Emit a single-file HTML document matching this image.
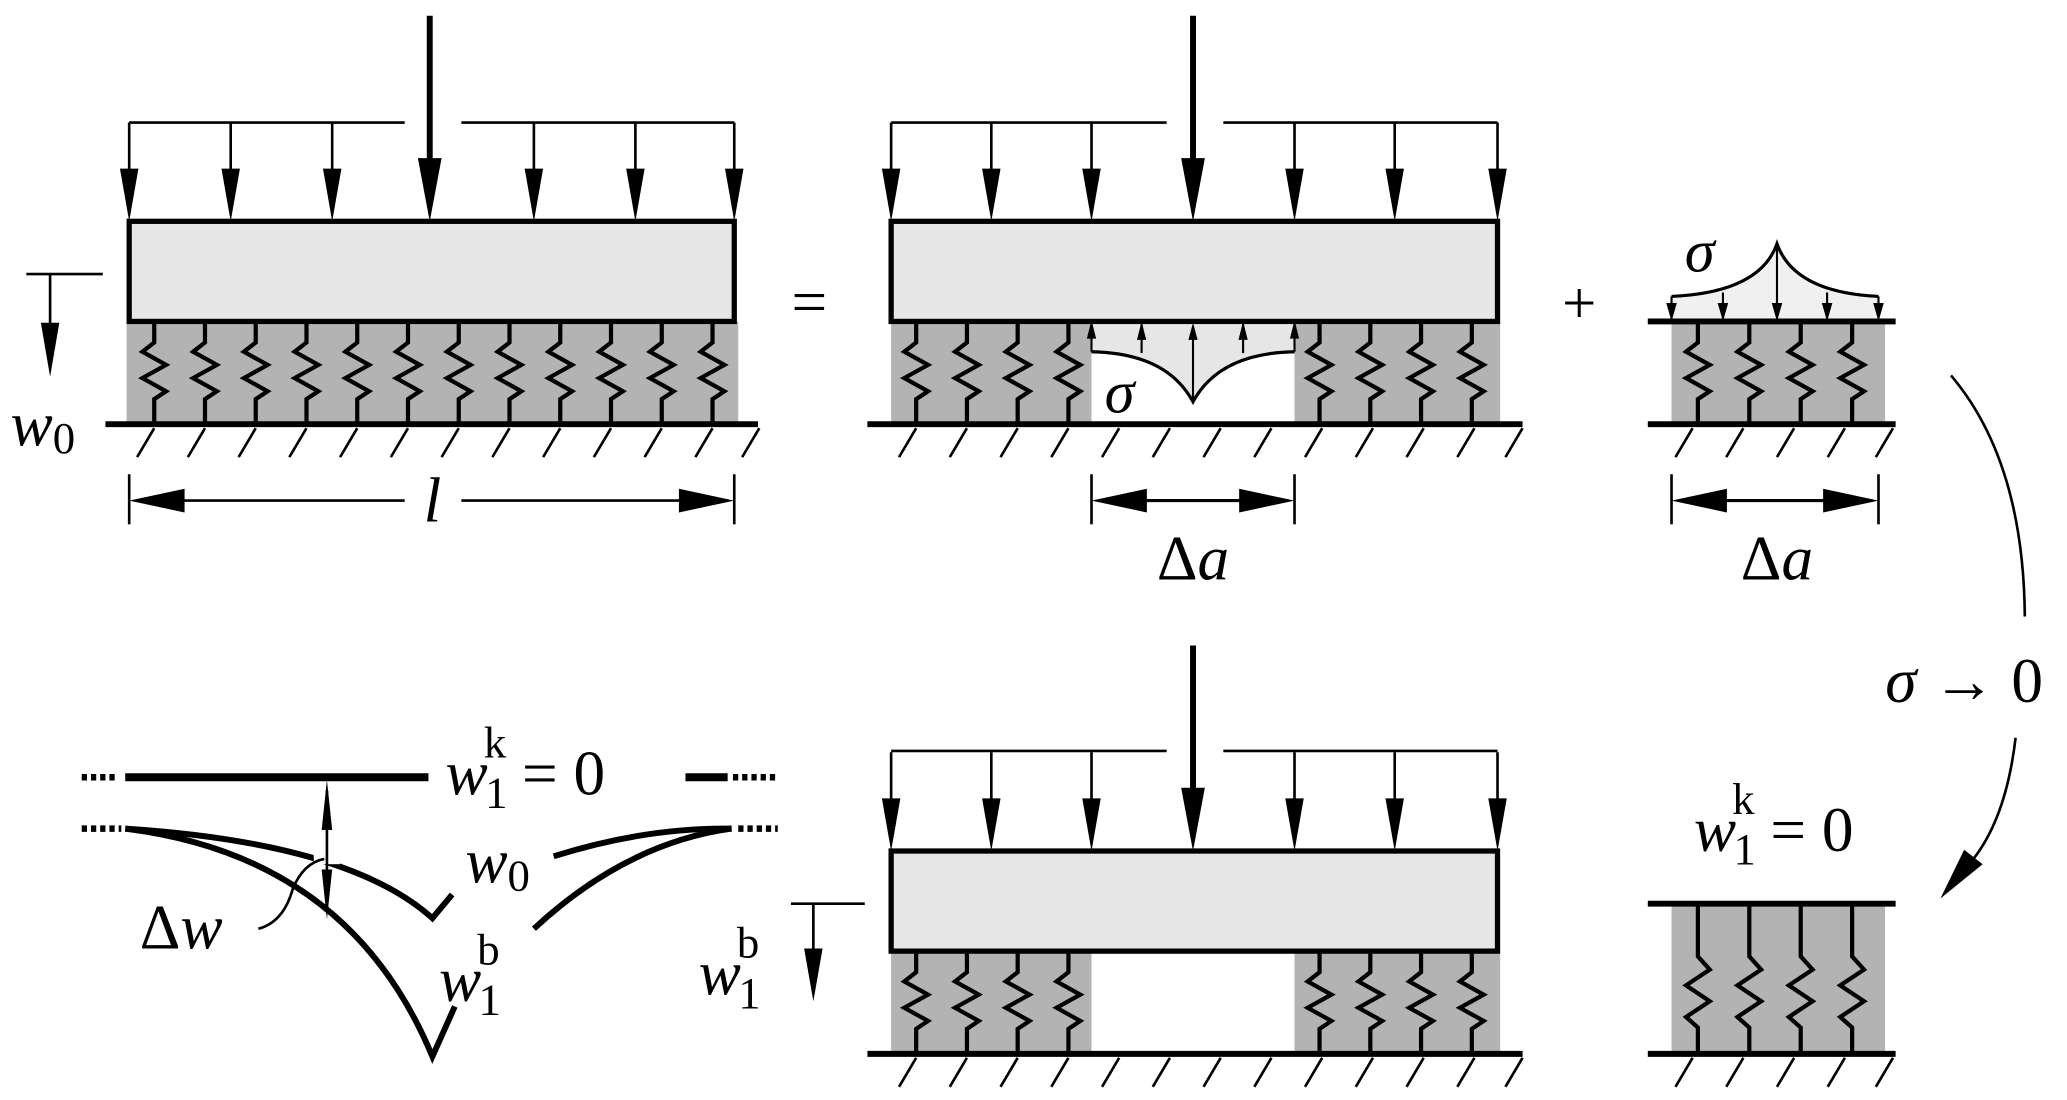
<!DOCTYPE html>
<html><head><meta charset="utf-8"><style>
html,body{margin:0;padding:0;background:#fff;}
svg{display:block;}
text{font-family:"Liberation Serif",serif;font-style:italic;fill:#000;}
.up{font-style:normal;}
</style></head><body>
<svg width="2067" height="1100" viewBox="0 0 1568 835" preserveAspectRatio="none" xmlns="http://www.w3.org/2000/svg">
<defs>
<g id="la"><line x1="0" y1="-75" x2="0" y2="-38" stroke="#000" stroke-width="2"/><polygon points="-7,-40 7,-40 0,0" fill="#000"/></g>
<g id="ba"><line x1="0" y1="-156" x2="0" y2="-46" stroke="#000" stroke-width="4.5"/><polygon points="-9,-48 9,-48 0,0" fill="#000"/></g>
<path id="sp" d="M0,0 V16 L-9,23 L9,33 L-9,43 L9,53 L0,59 V78" fill="none" stroke="#000" stroke-width="3.2" stroke-linejoin="miter"/>
<path id="spt" d="M0,0 V40 L9,50 L-9,62 L9,74 L-9,86 L0,94 V114" fill="none" stroke="#000" stroke-width="3.2"/>
<line id="h" x1="0" y1="325" x2="-13" y2="347" stroke="#000" stroke-width="2"/>
<polygon id="al" points="0,0 42,-9 42,9" fill="#000"/>
<polygon id="ar" points="0,0 -42,-9 -42,9" fill="#000"/>
<g id="sa"><line x1="0" y1="0" x2="0" y2="-22" stroke="#000" stroke-width="1.6"/><polygon points="-3.5,-10 3.5,-10 0,-24" fill="#000"/></g>
</defs>

<!-- ===== TOP LEFT ===== -->
<rect x="96" y="244" width="464" height="78" fill="#b3b3b3"/>
<g transform="translate(0,244)">
<use href="#sp" x="117"/><use href="#sp" x="155.5"/><use href="#sp" x="194"/><use href="#sp" x="232.5"/><use href="#sp" x="271"/><use href="#sp" x="309.5"/><use href="#sp" x="348"/><use href="#sp" x="386.5"/><use href="#sp" x="425"/><use href="#sp" x="463.5"/><use href="#sp" x="502"/><use href="#sp" x="540.5"/>
</g>
<rect x="98" y="168" width="459" height="76" fill="#e6e6e6" stroke="#000" stroke-width="4"/>
<line x1="98" y1="93" x2="307" y2="93" stroke="#000" stroke-width="2"/>
<line x1="350" y1="93" x2="557" y2="93" stroke="#000" stroke-width="2"/>
<g transform="translate(0,168)"><use href="#la" x="98"/><use href="#la" x="175"/><use href="#la" x="252"/><use href="#la" x="405"/><use href="#la" x="482"/><use href="#la" x="557"/><use href="#ba" x="326"/></g>
<line x1="80" y1="322" x2="575" y2="322" stroke="#000" stroke-width="4.5"/>
<g><use href="#h" x="117"/><use href="#h" x="155.5"/><use href="#h" x="194"/><use href="#h" x="232.5"/><use href="#h" x="271"/><use href="#h" x="309.5"/><use href="#h" x="348"/><use href="#h" x="386.5"/><use href="#h" x="425"/><use href="#h" x="463.5"/><use href="#h" x="502"/><use href="#h" x="540.5"/><use href="#h" x="576"/></g>
<line x1="20" y1="208" x2="78" y2="208" stroke="#000" stroke-width="2"/>
<line x1="38" y1="208" x2="38" y2="250" stroke="#000" stroke-width="2"/>
<polygon points="31,245 45,245 38,286" fill="#000"/>
<text x="8" y="338" font-size="48">w<tspan class="up" font-size="34" dy="6">0</tspan></text>
<line x1="98" y1="360" x2="98" y2="398" stroke="#000" stroke-width="2"/>
<line x1="557" y1="360" x2="557" y2="398" stroke="#000" stroke-width="2"/>
<line x1="120" y1="380" x2="307" y2="380" stroke="#000" stroke-width="2"/>
<line x1="350" y1="380" x2="535" y2="380" stroke="#000" stroke-width="2"/>
<use href="#al" x="98" y="380"/><use href="#ar" x="557" y="380"/>
<text x="328" y="396" font-size="48" text-anchor="middle">l</text>
<text class="up" x="614" y="245" font-size="48" text-anchor="middle">=</text>

<!-- ===== TOP MIDDLE ===== -->
<rect x="676" y="244" width="152" height="78" fill="#b3b3b3"/>
<rect x="982" y="244" width="156" height="78" fill="#b3b3b3"/>
<g transform="translate(0,244)"><use href="#sp" x="695"/><use href="#sp" x="733.5"/><use href="#sp" x="772"/><use href="#sp" x="810.5"/><use href="#sp" x="1001"/><use href="#sp" x="1039.5"/><use href="#sp" x="1078"/><use href="#sp" x="1116.5"/></g>
<path d="M828,244 V267 Q885,268 905,305 Q925,268 982,267 V244 Z" fill="#e6e6e6"/>
<path d="M828,267 Q885,268 905,305 Q925,268 982,267" fill="none" stroke="#000" stroke-width="2.4"/>
<g><use href="#sa" x="828" y="267"/><use href="#sa" x="866" y="268"/><use href="#sa" x="943" y="268"/><use href="#sa" x="982" y="267"/></g>
<line x1="905" y1="305" x2="905" y2="255" stroke="#000" stroke-width="1.6"/><polygon points="901.5,258 908.5,258 905,245" fill="#000"/>
<text x="838" y="313" font-size="46">σ</text>
<rect x="676" y="168" width="460" height="76" fill="#e6e6e6" stroke="#000" stroke-width="4"/>
<line x1="676" y1="93" x2="885" y2="93" stroke="#000" stroke-width="2"/>
<line x1="928" y1="93" x2="1136" y2="93" stroke="#000" stroke-width="2"/>
<g transform="translate(0,168)"><use href="#la" x="676"/><use href="#la" x="752"/><use href="#la" x="828"/><use href="#la" x="982"/><use href="#la" x="1058"/><use href="#la" x="1136"/><use href="#ba" x="905"/></g>
<line x1="658" y1="322" x2="1155" y2="322" stroke="#000" stroke-width="4.5"/>
<g><use href="#h" x="695"/><use href="#h" x="733.5"/><use href="#h" x="772"/><use href="#h" x="810.5"/><use href="#h" x="849"/><use href="#h" x="887.5"/><use href="#h" x="926"/><use href="#h" x="964.5"/><use href="#h" x="1003"/><use href="#h" x="1041.5"/><use href="#h" x="1080"/><use href="#h" x="1118.5"/><use href="#h" x="1155"/></g>
<line x1="828" y1="360" x2="828" y2="398" stroke="#000" stroke-width="2"/>
<line x1="982" y1="360" x2="982" y2="398" stroke="#000" stroke-width="2"/>
<line x1="860" y1="380" x2="950" y2="380" stroke="#000" stroke-width="2.4"/>
<use href="#al" x="828" y="380"/><use href="#ar" x="982" y="380"/>
<text x="905" y="440" font-size="48" text-anchor="middle"><tspan class="up">Δ</tspan>a</text>
<text class="up" x="1198" y="245" font-size="46" text-anchor="middle">+</text>

<!-- ===== TOP RIGHT ===== -->
<path d="M1268,244 V225 Q1335,222 1348,185 Q1361,222 1425,225 V244 Z" fill="#f0f0f0"/>
<path d="M1268,225 Q1335,222 1348,185 Q1361,222 1425,225" fill="none" stroke="#000" stroke-width="2.4"/>
<g stroke="#000" stroke-width="1.6">
<line x1="1268" y1="225" x2="1268" y2="235"/><line x1="1307" y1="222" x2="1307" y2="235"/><line x1="1348" y1="186" x2="1348" y2="235"/><line x1="1386" y1="222" x2="1386" y2="235"/><line x1="1425" y1="225" x2="1425" y2="235"/>
</g>
<g fill="#000"><polygon points="1264,230 1272,230 1268,244"/><polygon points="1303,230 1311,230 1307,244"/><polygon points="1344,230 1352,230 1348,244"/><polygon points="1382,230 1390,230 1386,244"/><polygon points="1421,230 1429,230 1425,244"/></g>
<text x="1278" y="206" font-size="46">σ</text>
<rect x="1268" y="244" width="162" height="78" fill="#b3b3b3"/>
<g transform="translate(0,244)"><use href="#sp" x="1288"/><use href="#sp" x="1327"/><use href="#sp" x="1366"/><use href="#sp" x="1405"/></g>
<line x1="1250" y1="244" x2="1438" y2="244" stroke="#000" stroke-width="4.5"/>
<line x1="1250" y1="322" x2="1438" y2="322" stroke="#000" stroke-width="4.5"/>
<g><use href="#h" x="1284"/><use href="#h" x="1322.5"/><use href="#h" x="1361"/><use href="#h" x="1399.5"/><use href="#h" x="1436"/></g>
<line x1="1268" y1="360" x2="1268" y2="398" stroke="#000" stroke-width="2"/>
<line x1="1425" y1="360" x2="1425" y2="398" stroke="#000" stroke-width="2"/>
<line x1="1300" y1="380" x2="1393" y2="380" stroke="#000" stroke-width="2.4"/>
<use href="#al" x="1268" y="380"/><use href="#ar" x="1425" y="380"/>
<text x="1348" y="440" font-size="48" text-anchor="middle"><tspan class="up">Δ</tspan>a</text>

<path d="M1480,285 Q1535,350 1536,468" fill="none" stroke="#000" stroke-width="2"/>
<text x="1490" y="533" font-size="48" text-anchor="middle">σ <tspan class="up">→ 0</tspan></text>
<path d="M1529,560 Q1522,620 1497,652" fill="none" stroke="#000" stroke-width="2"/>
<polygon points="1472,682 1504,656 1490,645" fill="#000"/>

<!-- ===== BOTTOM RIGHT ===== -->
<text x="1285" y="646" font-size="48">w<tspan class="up" font-size="34" dx="-2" dy="10">1</tspan><tspan class="up" font-size="34" dx="-18" dy="-38">k</tspan><tspan class="up" dy="28" dx="12">= 0</tspan></text>
<rect x="1268" y="686" width="162" height="114" fill="#b3b3b3"/>
<g transform="translate(0,686)"><use href="#spt" x="1288"/><use href="#spt" x="1327"/><use href="#spt" x="1366"/><use href="#spt" x="1405"/></g>
<line x1="1250" y1="686" x2="1438" y2="686" stroke="#000" stroke-width="4.5"/>
<line x1="1250" y1="800" x2="1438" y2="800" stroke="#000" stroke-width="4.5"/>
<g transform="translate(0,478)"><use href="#h" x="1284"/><use href="#h" x="1322.5"/><use href="#h" x="1361"/><use href="#h" x="1399.5"/><use href="#h" x="1436"/></g>

<!-- ===== BOTTOM MIDDLE ===== -->
<rect x="676" y="722" width="152" height="78" fill="#b3b3b3"/>
<rect x="982" y="722" width="156" height="78" fill="#b3b3b3"/>
<g transform="translate(0,722)"><use href="#sp" x="695"/><use href="#sp" x="733.5"/><use href="#sp" x="772"/><use href="#sp" x="810.5"/><use href="#sp" x="1001"/><use href="#sp" x="1039.5"/><use href="#sp" x="1078"/><use href="#sp" x="1116.5"/></g>
<rect x="676" y="646" width="460" height="76" fill="#e6e6e6" stroke="#000" stroke-width="4"/>
<line x1="676" y1="570" x2="885" y2="570" stroke="#000" stroke-width="2"/>
<line x1="928" y1="570" x2="1136" y2="570" stroke="#000" stroke-width="2"/>
<g transform="translate(0,646)"><use href="#la" x="676"/><use href="#la" x="752"/><use href="#la" x="828"/><use href="#la" x="982"/><use href="#la" x="1058"/><use href="#la" x="1136"/><use href="#ba" x="905"/></g>
<line x1="658" y1="800" x2="1155" y2="800" stroke="#000" stroke-width="4.5"/>
<g transform="translate(0,478)"><use href="#h" x="695"/><use href="#h" x="733.5"/><use href="#h" x="772"/><use href="#h" x="810.5"/><use href="#h" x="849"/><use href="#h" x="887.5"/><use href="#h" x="926"/><use href="#h" x="964.5"/><use href="#h" x="1003"/><use href="#h" x="1041.5"/><use href="#h" x="1080"/><use href="#h" x="1118.5"/><use href="#h" x="1155"/></g>
<line x1="600" y1="686" x2="656" y2="686" stroke="#000" stroke-width="2"/>
<line x1="617" y1="686" x2="617" y2="725" stroke="#000" stroke-width="2"/>
<polygon points="610,720 624,720 617,760" fill="#000"/>
<text x="530" y="755" font-size="48">w<tspan class="up" font-size="34" dx="-2" dy="10">1</tspan><tspan class="up" font-size="34" dx="-18" dy="-38">b</tspan></text>

<!-- ===== BOTTOM LEFT ===== -->
<line x1="62" y1="590" x2="90" y2="590" stroke="#000" stroke-width="5" stroke-dasharray="4 3"/>
<line x1="95" y1="590" x2="325" y2="590" stroke="#000" stroke-width="6"/>
<line x1="520" y1="590" x2="552" y2="590" stroke="#000" stroke-width="6"/>
<line x1="556" y1="590" x2="590" y2="590" stroke="#000" stroke-width="5" stroke-dasharray="4 3"/>
<text x="338" y="603" font-size="48">w<tspan class="up" font-size="34" dx="-2" dy="10">1</tspan><tspan class="up" font-size="34" dx="-18" dy="-38">k</tspan><tspan class="up" dy="28" dx="12">= 0</tspan></text>
<line x1="62" y1="629" x2="92" y2="629" stroke="#000" stroke-width="5" stroke-dasharray="4 3"/>
<line x1="560" y1="629" x2="590" y2="629" stroke="#000" stroke-width="5" stroke-dasharray="4 3"/>
<g fill="none" stroke="#000" stroke-width="4.5">
<path d="M95,629 Q265,640 328,697 L343,679"/>
<path d="M95,629 Q265,650 328,802 L345,764"/>
<path d="M420,650 Q490,628 555,629"/>
<path d="M405,705 Q475,640 555,629"/>
</g>
<rect x="238" y="640" width="20" height="16" fill="#fff"/>
<line x1="248" y1="600" x2="248" y2="690" stroke="#000" stroke-width="2"/>
<polygon points="244,630 252,630 248,592" fill="#000"/>
<polygon points="244,660 252,660 248,698" fill="#000"/>
<path d="M196,705 Q215,700 222,675 Q230,655 246,652" fill="none" stroke="#000" stroke-width="2"/>
<text x="106" y="720" font-size="48"><tspan class="up">Δ</tspan>w</text>
<text x="353" y="670" font-size="48">w<tspan class="up" font-size="34" dy="6">0</tspan></text>
<text x="333" y="760" font-size="48">w<tspan class="up" font-size="34" dx="-2" dy="10">1</tspan><tspan class="up" font-size="34" dx="-18" dy="-38">b</tspan></text>
</svg>
</body></html>
